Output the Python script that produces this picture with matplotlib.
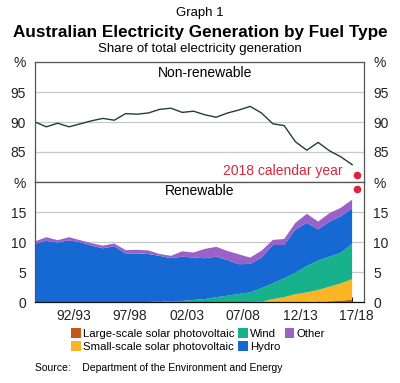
import matplotlib
matplotlib.use("Agg")
import matplotlib.pyplot as plt
import numpy as np
from matplotlib.patches import Patch

plt.rcParams['font.family'] = ['Liberation Sans', 'DejaVu Sans']

# financial years 1989/90 .. 2017/18
years = list(range(1989, 2018))
year_labels = ['92/93', '97/98', '02/03', '07/08', '12/13', '17/18']
label_idx = [3, 8, 13, 18, 23, 28]

# share of total generation, per cent
non_renewable = [90.0, 89.2, 89.8, 89.2, 89.7, 90.2, 90.6, 90.3, 91.4, 91.3,
                 91.5, 92.1, 92.3, 91.6, 91.8, 91.2, 90.8, 91.5, 92.0, 92.6,
                 91.5, 89.7, 89.4, 86.7, 85.3, 86.6, 85.2, 84.2, 82.9]

large_solar = [0] * 25 + [0.05, 0.1, 0.2, 0.4]
small_solar = [0] * 20 + [0.05, 0.5, 0.8, 1.3, 1.6, 1.95, 2.45, 2.9, 3.4]
wind = [0] * 11 + [0.05, 0.1, 0.2, 0.35, 0.5, 0.8, 1.05, 1.35, 1.6,
                   2.25, 2.6, 3.15, 3.6, 4.4, 4.9, 5.0, 5.1, 5.9]
hydro = [9.7, 10.2, 9.9, 10.3, 9.95, 9.4, 8.95, 9.3, 8.1, 8.1,
         8.0, 7.65, 7.2, 7.35, 7.05, 6.8, 6.75, 5.95, 4.95, 4.75,
         5.1, 6.4, 5.55, 7.2, 7.2, 5.2, 5.85, 6.1, 5.9]
other = [0.4, 0.6, 0.4, 0.5, 0.35, 0.4, 0.45, 0.45, 0.55, 0.6,
         0.6, 0.3, 0.4, 0.9, 0.85, 1.55, 1.65, 1.5, 1.65, 1.05,
         1.15, 0.85, 1.0, 1.1, 1.5, 1.3, 1.4, 1.4, 1.45]

# 2018 calendar year
cal2018_x = 28.45
cal2018_nonren = 81.2
cal2018_ren = 18.8

names = ['Large-scale solar photovoltaic', 'Small-scale solar photovoltaic',
         'Wind', 'Hydro', 'Other']
colors = ['#c4561a', '#fbb424', '#17b28c', '#1668d2', '#9a62c8']
red = '#d8263c'
grid_c = '#c8c8c8'
frame_c = '#555555'

x = np.arange(len(years))

fig = plt.figure(figsize=(4.0, 3.83), dpi=100)
W, H = 400, 383
left, right = 35 / W, 364 / W
ax_top = fig.add_axes([left, 1 - 182 / H, right - left, 120 / H])
ax_bot = fig.add_axes([left, 1 - 302 / H, right - left, 120 / H])

for ax in (ax_top, ax_bot):
    ax.set_xlim(0, 29.05)
    for s in ax.spines.values():
        s.set_color(frame_c)
        s.set_linewidth(0.9)
    ax.tick_params(axis='y', left=False, right=False, labelleft=True,
                   labelright=True, labelsize=10, pad=3, colors='#222222')
    ax.grid(axis='y', color=grid_c, linewidth=0.9)
    ax.set_axisbelow(True)

# top panel
ax_top.plot(x, non_renewable, color='#1e3d44', linewidth=1.0)
ax_top.plot([cal2018_x], [cal2018_nonren], 'o', color=red, markersize=4.5, clip_on=False)
ax_top.set_ylim(80, 100)
ax_top.set_yticks([85, 90, 95, 100])
ax_top.set_yticklabels(['85', '90', '95', '%'])
ax_top.set_xticks([])
ax_top.text(0.517, 0.91, 'Non-renewable', transform=ax_top.transAxes,
            ha='center', va='center', fontsize=10)
ax_top.text(0.936, 0.09, '2018 calendar year', transform=ax_top.transAxes,
            ha='right', va='center', fontsize=10, color=red)

# bottom panel
ax_bot.stackplot(x, large_solar, small_solar, wind, hydro, other,
                 colors=colors, linewidth=0)
ax_bot.plot([cal2018_x], [cal2018_ren], 'o', color=red, markersize=4.5, clip_on=False)
ax_bot.set_ylim(0, 20)
ax_bot.set_yticks([0, 5, 10, 15, 20])
ax_bot.set_yticklabels(['0', '5', '10', '15', '%'])
ax_bot.spines['bottom'].set_color('#111111')
ax_bot.set_xticks(x[1:], minor=True)
ax_bot.set_xticks([i + 0.4 for i in label_idx])
ax_bot.set_xticklabels(year_labels, fontsize=10, color='#222222')
ax_bot.tick_params(axis='x', which='major', length=0, pad=5)
ax_bot.tick_params(axis='x', which='minor', direction='in', length=3.5,
                   width=0.8, color='#111111', top=False)
ax_bot.text(0.50, 0.925, 'Renewable', transform=ax_bot.transAxes,
            ha='center', va='center', fontsize=10)

handles = [Patch(facecolor=c, edgecolor='none') for c in colors]
fig.legend(handles, names, loc='center', bbox_to_anchor=(198 / W, 1 - 340 / H),
           ncol=3, frameon=False, fontsize=8.2, handlelength=0.85, handleheight=0.95,
           handletextpad=0.2, columnspacing=0.35, labelspacing=0.2,
           borderpad=0)

fig.text(0.5, 1 - 13 / H, 'Graph 1', ha='center', va='center', fontsize=9.5)
fig.text(0.5, 1 - 33 / H, 'Australian Electricity Generation by Fuel Type',
         ha='center', va='center', fontsize=12.3, fontweight='bold')
fig.text(0.5, 1 - 49 / H, 'Share of total electricity generation',
         ha='center', va='center', fontsize=9.5)
fig.text(35 / W, 1 - 368 / H, 'Source:    Department of the Environment and Energy',
         ha='left', va='center', fontsize=7.5)

fig.savefig('out.png', dpi=100)
